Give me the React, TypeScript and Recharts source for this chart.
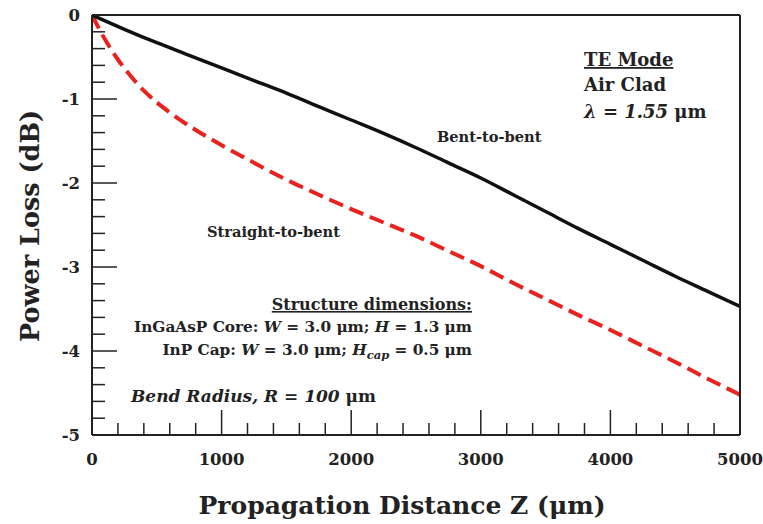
import { LineChart, Line, XAxis, YAxis } from 'recharts';

// Bent-to-bent (solid black)
const bentZ = [0, 250, 500, 750, 1000, 1250, 1500, 1750, 2000, 2250, 2500, 2750, 3000, 3250, 3500, 3750, 4000, 4250, 4500, 4750, 5000];
const bentLoss = [0, -0.17, -0.33, -0.48, -0.63, -0.78, -0.93, -1.09, -1.25, -1.41, -1.58, -1.76, -1.94, -2.14, -2.34, -2.54, -2.73, -2.92, -3.11, -3.29, -3.47];

// Straight-to-bent (red dashed)
const straightZ = [0, 100, 200, 300, 400, 500, 600, 750, 1000, 1250, 1500, 1750, 2000, 2250, 2500, 2750, 3000, 3250, 3500, 3750, 4000, 4250, 4500, 4750, 5000];
const straightLoss = [0, -0.29, -0.53, -0.73, -0.9, -1.04, -1.16, -1.32, -1.55, -1.76, -1.96, -2.14, -2.31, -2.47, -2.63, -2.81, -2.99, -3.19, -3.38, -3.57, -3.75, -3.94, -4.13, -4.33, -4.52];

const xMajor = [0, 1000, 2000, 3000, 4000, 5000];
const yMajor = [-5, -4, -3, -2, -1, 0];
const xTicks = Array.from({ length: 26 }, (_, i) => i * 200);
const yTicks = Array.from({ length: 26 }, (_, i) => Number((i * 0.2 - 5).toFixed(1)));

const bentData = bentZ.map((z, i) => ({ z, loss: bentLoss[i] }));
const straightData = straightZ.map((z, i) => ({ z, loss: straightLoss[i] }));

const FONT = '"DejaVu Serif", serif';
const INK = '#222';

const isMajor = (v: number, list: number[]) => list.some((m) => Math.abs(m - v) < 1e-6);

const YTick = (props: any) => {
  const { x, y, payload, side } = props;
  const major = isMajor(payload.value, yMajor);
  const len = major ? 25 : 13;
  const dir = side === 'left' ? 1 : -1;
  return (
    <g>
      <line x1={x} y1={y} x2={x + dir * len} y2={y} stroke={INK} strokeWidth={1.5} />
      {side === 'left' && major && (
        <text x={x - 12} y={y} textAnchor="end" dominantBaseline="central" fontFamily={FONT} fontWeight="bold" fontSize={16.5} fill={INK}>
          {String(payload.value)}
        </text>
      )}
    </g>
  );
};

const XTick = (props: any) => {
  const { x, y, payload, side } = props;
  const major = isMajor(payload.value, xMajor);
  const len = major ? 25 : 12;
  const dir = side === 'bottom' ? -1 : 1;
  return (
    <g>
      <line x1={x} y1={y} x2={x} y2={y + dir * len} stroke={INK} strokeWidth={1.5} />
      {side === 'bottom' && major && (
        <text x={x} y={y + 24} textAnchor="middle" dominantBaseline="central" fontFamily={FONT} fontWeight="bold" fontSize={16.5} fill={INK}>
          {String(payload.value)}
        </text>
      )}
    </g>
  );
};

const txt = { fontFamily: FONT, fontWeight: 'bold' as const, fill: INK };

export default function App() {
  return (
    <div style={{ position: 'absolute', left: 0, top: 0, width: 763, height: 524, background: '#fff' }}>
      <LineChart width={763} height={524} margin={{ top: 14, right: 22, left: 32, bottom: 29 }}>
        <XAxis
          xAxisId="b"
          type="number"
          dataKey="z"
          domain={[0, 5000]}
          ticks={xTicks}
          interval={0}
          tickSize={0}
          tickMargin={0}
          height={60}
          axisLine={{ stroke: INK, strokeWidth: 2 }}
          tickLine={false}
          tick={<XTick side="bottom" />}
          allowDataOverflow
        />
        <XAxis
          xAxisId="t"
          orientation="top"
          type="number"
          dataKey="z"
          domain={[0, 5000]}
          ticks={xTicks}
          interval={0}
          tickSize={0}
          tickMargin={0}
          height={1}
          axisLine={{ stroke: INK, strokeWidth: 2 }}
          tickLine={false}
          tick={<XTick side="top" />}
        />
        <YAxis
          yAxisId="l"
          type="number"
          domain={[-5, 0]}
          ticks={yTicks}
          interval={0}
          tickSize={0}
          tickMargin={0}
          width={60}
          axisLine={{ stroke: INK, strokeWidth: 2 }}
          tickLine={false}
          tick={<YTick side="left" />}
          allowDataOverflow
        />
        <YAxis
          yAxisId="r"
          orientation="right"
          type="number"
          domain={[-5, 0]}
          ticks={yTicks}
          interval={0}
          tickSize={0}
          tickMargin={0}
          width={1}
          axisLine={{ stroke: INK, strokeWidth: 2 }}
          tickLine={false}
          tick={<YTick side="right" />}
        />
        <Line
          xAxisId="b"
          yAxisId="l"
          data={straightData}
          dataKey="loss"
          type="monotone"
          stroke="#e8231f"
          strokeWidth={4}
          strokeDasharray="15 7"
          dot={false}
          isAnimationActive={false}
        />
        <Line
          xAxisId="b"
          yAxisId="l"
          data={bentData}
          dataKey="loss"
          type="monotone"
          stroke="#111"
          strokeWidth={3.5}
          dot={false}
          isAnimationActive={false}
        />
      </LineChart>

      <svg width={763} height={524} style={{ position: 'absolute', left: 0, top: 0, pointerEvents: 'none' }}>
        <text {...txt} x={30} y={226} fontSize={25.5} textAnchor="middle" dominantBaseline="central" transform="rotate(-90 30 226)">
          Power Loss (dB)
        </text>
        <text {...txt} x={402} y={505} fontSize={25} textAnchor="middle" dominantBaseline="central">
          Propagation Distance Z (μm)
        </text>

        <text {...txt} x={584} y={66} fontSize={18} textDecoration="underline">TE Mode</text>
        <text {...txt} x={584} y={91} fontSize={18}>Air Clad</text>
        <text {...txt} x={584} y={118} fontSize={18}>
          <tspan fontStyle="italic">λ = 1.55</tspan> μm
        </text>

        <text {...txt} x={437} y={142} fontSize={14.6}>Bent-to-bent</text>
        <text {...txt} x={207} y={237} fontSize={14.6}>Straight-to-bent</text>

        <text {...txt} x={472} y={310} fontSize={16} textAnchor="end" textDecoration="underline">Structure dimensions:</text>
        <text {...txt} x={472} y={332} fontSize={15.3} textAnchor="end">
          InGaAsP Core: <tspan fontStyle="italic">W</tspan> = 3.0 μm; <tspan fontStyle="italic">H</tspan> = 1.3 μm
        </text>
        <text {...txt} x={472} y={355} fontSize={15.3} textAnchor="end">
          InP Cap: <tspan fontStyle="italic">W</tspan> = 3.0 μm; <tspan fontStyle="italic">H</tspan>
          <tspan fontStyle="italic" fontSize={11.5} dy={4}>cap</tspan>
          <tspan dy={-4}> = 0.5 μm</tspan>
        </text>

        <text {...txt} x={131} y={402} fontSize={17}>
          <tspan fontStyle="italic">Bend Radius, R = 100</tspan> μm
        </text>
      </svg>
    </div>
  );
}
